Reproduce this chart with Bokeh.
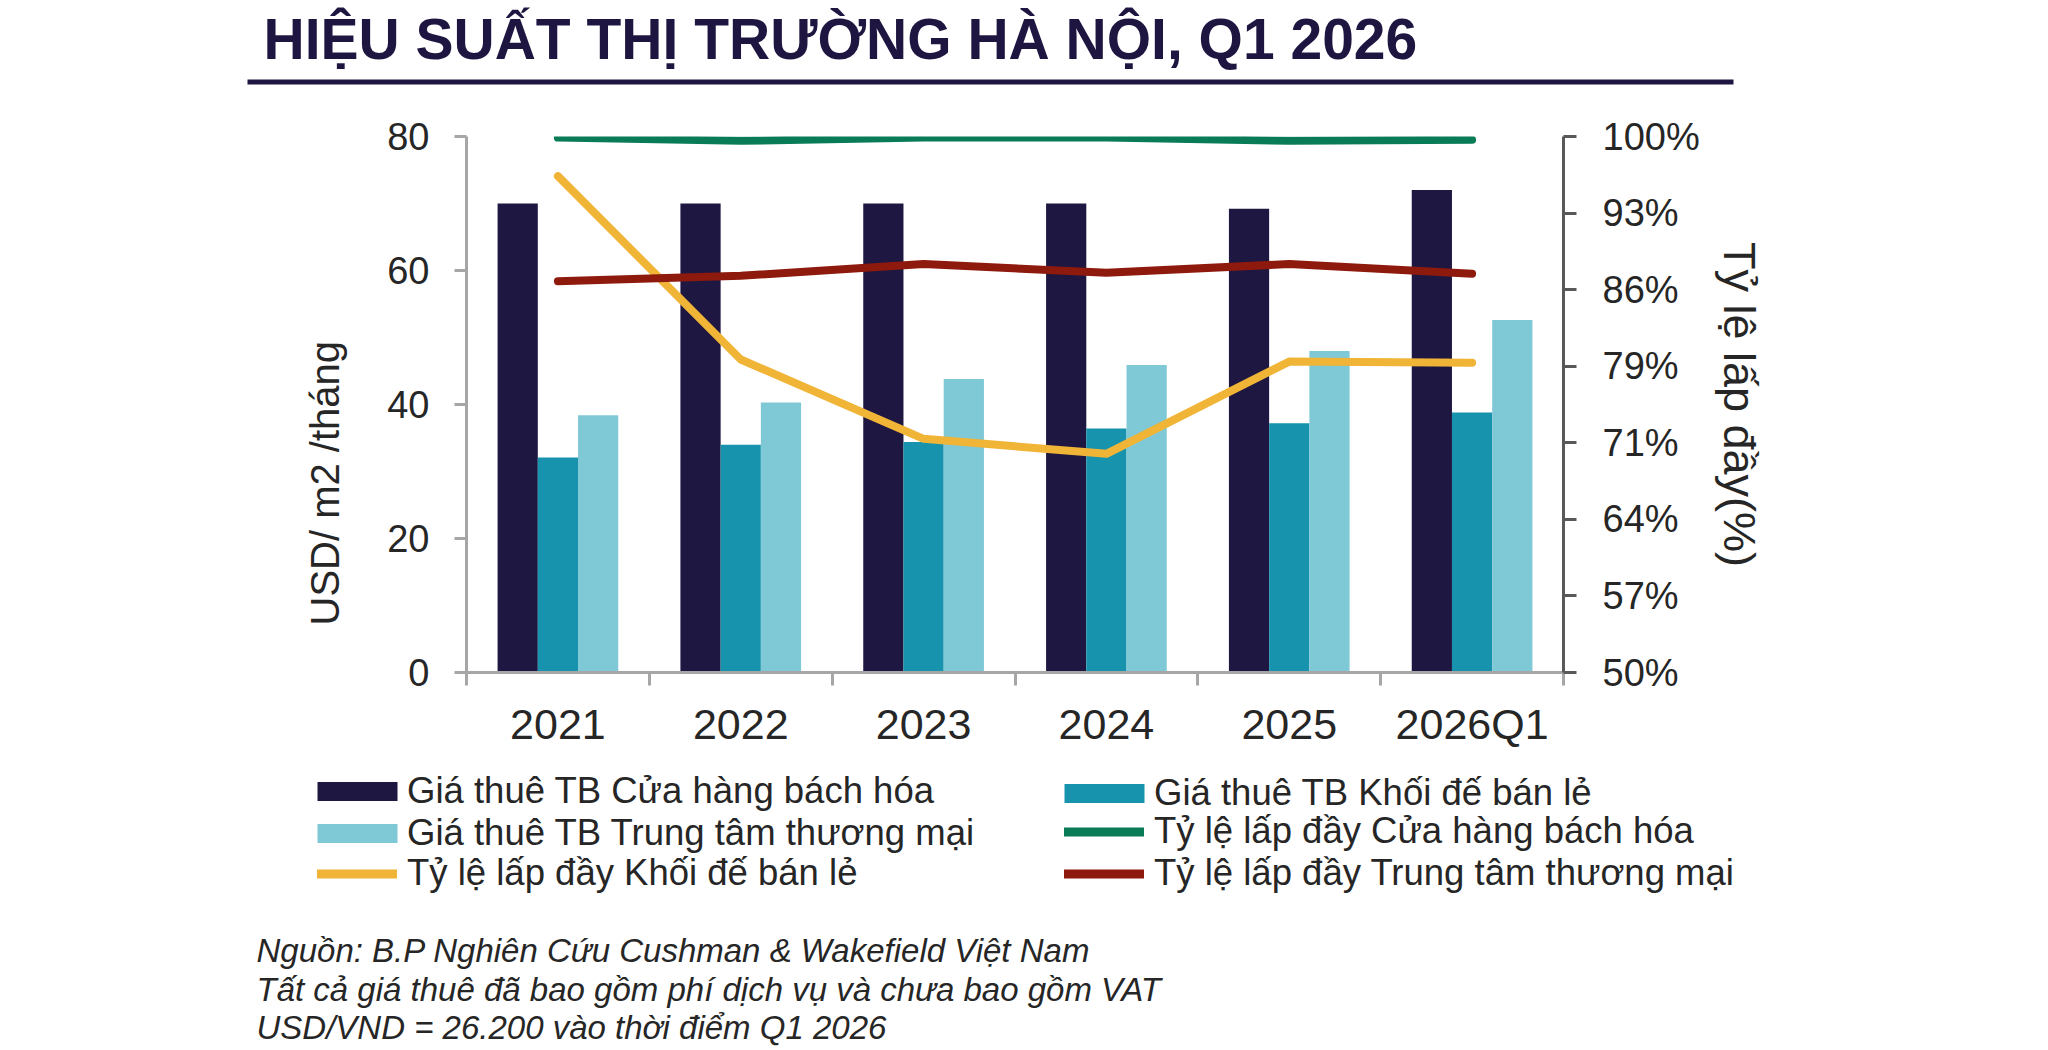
import numpy as np
from bokeh.plotting import figure
from bokeh.layouts import column
from bokeh.models import (Range1d, LinearAxis, FixedTicker, Legend, LegendItem,
                          Label, BoxAnnotation, Title)
from bokeh.embed import file_html
from bokeh.resources import INLINE

# ---------------- data ----------------
years = ["2021", "2022", "2023", "2024", "2025", "2026Q1"]
rent_dept = [70.0, 70.0, 70.0, 70.0, 69.2, 72.0]      # Giá thuê TB Cửa hàng bách hóa
rent_podium = [32.1, 34.0, 34.4, 36.4, 37.2, 38.8]    # Giá thuê TB Khối đế bán lẻ
rent_mall = [38.4, 40.3, 43.8, 45.9, 48.0, 52.6]      # Giá thuê TB Trung tâm thương mại
occ_dept = [99.9, 99.6, 99.9, 99.9, 99.6, 99.7]       # Tỷ lệ lấp đầy Cửa hàng bách hóa
occ_podium = [96.3, 79.2, 71.8, 70.4, 79.0, 78.9]     # Tỷ lệ lấp đầy Khối đế bán lẻ
occ_mall = [86.5, 87.0, 88.1, 87.3, 88.1, 87.2]       # Tỷ lệ lấp đầy Trung tâm thương mại

rent_ticks = [0, 20, 40, 60, 80]
occ_tick_labels = ["50%", "57%", "64%", "71%", "79%", "86%", "93%", "100%"]

names = ["Giá thuê TB Cửa hàng bách hóa", "Giá thuê TB Khối đế bán lẻ",
         "Giá thuê TB Trung tâm thương mại", "Tỷ lệ lấp đầy Cửa hàng bách hóa",
         "Tỷ lệ lấp đầy Khối đế bán lẻ", "Tỷ lệ lấp đầy Trung tâm thương mại"]

title_text = "HIỆU SUẤT THỊ TRƯỜNG HÀ NỘI, Q1 2026"
y_title = "USD/ m2 /tháng"
y2_title = "Tỷ lệ lấp đầy(%)"
notes = ["Nguồn: B.P Nghiên Cứu Cushman & Wakefield Việt Nam",
         "Tất cả giá thuê đã bao gồm phí dịch vụ và chưa bao gồm VAT",
         "USD/VND = 26.200 vào thời điểm Q1 2026"]

# ---------------- styles ----------------
C_DARK, C_TEAL, C_LIGHT = "#1E1741", "#1793AD", "#7FC8D6"
C_GREEN, C_YELLOW, C_RED = "#0A7B57", "#F0B437", "#8E190D"
NAVY = "#1E1641"
TXT = "#262626"
FONT = "Liberation Sans"

W = 2032
HT = 100            # title strip: canvas y 0..100
M_TOP, M_BOT = 100, 762
H_ALL = 1046
FL, FR, FT, FB = 466, 1563, 136, 672   # chart frame edges (canvas px)


def blank(height, y0):
    f = figure(width=W, height=height, output_backend="svg", toolbar_location=None,
               x_range=Range1d(0, W), y_range=Range1d(y0 + height, y0),
               x_axis_type=None, y_axis_type=None, frame_align=False,
               min_border=0, min_border_left=0, min_border_right=0,
               min_border_top=0, min_border_bottom=0)
    f.outline_line_color = None
    f.xgrid.visible = False
    f.ygrid.visible = False
    f.background_fill_color = "white"
    f.border_fill_color = "white"
    return f


# ---------------- title strip ----------------
pt = blank(HT, 0)
pt.add_layout(Label(x=263, y=38, text=title_text, text_font=FONT, text_font_style="bold",
                    text_font_size="57px", text_color=NAVY, text_baseline="alphabetic"))
pt.add_layout(BoxAnnotation(left=247, right=1733, top=79, bottom=84,
                            fill_color=NAVY, fill_alpha=1, line_color=None))

# ---------------- main chart ----------------
n = len(years)
xc = np.arange(n) + 0.5
bw = 0.22

p = figure(width=W, height=M_BOT - M_TOP, output_backend="svg", toolbar_location=None,
           x_range=Range1d(0, n), y_range=Range1d(0, 80),
           x_axis_type=None, y_axis_type=None, frame_align=False,
           min_border_left=FL, min_border_right=W - FR,
           min_border_top=FT - M_TOP, min_border_bottom=M_BOT - FB)
p.outline_line_color = None
p.xgrid.visible = False
p.ygrid.visible = False
p.background_fill_color = "white"
p.border_fill_color = "white"
p.extra_y_ranges = {"occ": Range1d(50, 100)}

r1 = p.vbar(x=xc - bw, top=rent_dept, width=bw, fill_color=C_DARK, line_color=None)
r2 = p.vbar(x=xc, top=rent_podium, width=bw, fill_color=C_TEAL, line_color=None)
r3 = p.vbar(x=xc + bw, top=rent_mall, width=bw, fill_color=C_LIGHT, line_color=None)

lkw = dict(line_width=8, line_cap="round", line_join="round", y_range_name="occ")
r4 = p.line(xc, occ_dept, line_color=C_GREEN, **lkw)
r5 = p.line(xc, occ_podium, line_color=C_YELLOW, **lkw)
r6 = p.line(xc, occ_mall, line_color=C_RED, **lkw)


def style_axis(ax, color, size):
    ax.axis_line_color = color
    ax.axis_line_width = 3
    ax.major_tick_line_color = color
    ax.major_tick_line_width = 3
    ax.minor_tick_line_color = color
    ax.minor_tick_line_width = 3
    ax.major_tick_in = 0
    ax.minor_tick_in = 0
    ax.minor_tick_out = 0
    ax.major_label_text_font = FONT
    ax.major_label_text_font_size = size
    ax.major_label_text_color = TXT
    ax.axis_label_text_font = FONT
    ax.axis_label_text_font_style = "normal"
    ax.axis_label_text_color = TXT


xax = LinearAxis(ticker=FixedTicker(ticks=list(xc), minor_ticks=list(np.arange(n + 1))))
style_axis(xax, "#A6A6A6", "43px")
xax.major_tick_out = 0
xax.major_tick_line_color = None
xax.minor_tick_out = 13
xax.major_label_standoff = 14
xax.major_label_overrides = {float(v): lab for v, lab in zip(xc, years)}
p.add_layout(xax, "below")

yax = LinearAxis(ticker=FixedTicker(ticks=rent_ticks))
style_axis(yax, "#A6A6A6", "38px")
yax.major_tick_out = 12
yax.major_label_standoff = 25
p.add_layout(yax, "left")

p.add_layout(Title(text=y_title, align="left", offset=47, standoff=75,
                   text_font=FONT, text_font_style="normal", text_font_size="40px",
                   text_color=TXT), "left")

occ_ticks = list(np.linspace(50, 100, len(occ_tick_labels)))
rax = LinearAxis(y_range_name="occ", ticker=FixedTicker(ticks=occ_ticks), axis_label=y2_title)
style_axis(rax, "#595959", "38px")
rax.major_tick_out = 13
rax.major_label_standoff = 26
rax.major_label_overrides = {float(v): lab for v, lab in zip(occ_ticks, occ_tick_labels)}
rax.axis_label_text_font_size = "45px"
rax.axis_label_standoff = 11
p.add_layout(rax, "right")

# ---------------- legend + notes strip ----------------
pb = blank(H_ALL - M_BOT, M_BOT)
# legend keys styled like the chart's series (zero-size proxies)
k1 = pb.vbar(x=[0], top=[M_BOT], bottom=[M_BOT], width=0, fill_color=C_DARK, line_color=None)
k2 = pb.vbar(x=[0], top=[M_BOT], bottom=[M_BOT], width=0, fill_color=C_TEAL, line_color=None)
k3 = pb.vbar(x=[0], top=[M_BOT], bottom=[M_BOT], width=0, fill_color=C_LIGHT, line_color=None)
k4 = pb.line(x=[0], y=[M_BOT], line_color=C_GREEN, line_width=9, line_cap="round")
k5 = pb.line(x=[0], y=[M_BOT], line_color=C_YELLOW, line_width=9, line_cap="round")
k6 = pb.line(x=[0], y=[M_BOT], line_color=C_RED, line_width=9, line_cap="round")

ROW_H = 40
ROW0_TOP = 794 - ROW_H / 2
TEXT_X = [407, 1154]          # where legend texts start, per column


def make_legend(items, col, row0, is_bar):
    gw, gh, so = (100, 24, 0) if is_bar else (80, 19, 10)
    top = ROW0_TOP + row0 * ROW_H
    bottom = top + len(items) * ROW_H
    lg = Legend(items=items, orientation="vertical",
                location=(TEXT_X[col] - gw - so, H_ALL - bottom),
                glyph_width=gw, glyph_height=gh, label_standoff=so,
                label_text_font=FONT, label_text_font_size="36.5px",
                label_text_color=TXT, label_height=ROW_H, spacing=0,
                padding=0, margin=0, border_line_color=None,
                background_fill_alpha=0)
    pb.add_layout(lg, "center")


make_legend([LegendItem(label=names[0], renderers=[k1]),
             LegendItem(label=names[2], renderers=[k3])], 0, 0, True)
make_legend([LegendItem(label=names[4], renderers=[k5])], 0, 2, False)
make_legend([LegendItem(label=names[1], renderers=[k2])], 1, 0, True)
make_legend([LegendItem(label=names[3], renderers=[k4]),
             LegendItem(label=names[5], renderers=[k6])], 1, 1, False)

for i, t in enumerate(notes):
    pb.add_layout(Label(x=256, y=950 + 38.5 * i, text=t, text_font=FONT,
                        text_font_style="italic", text_font_size="33px",
                        text_color=TXT, text_baseline="middle"))

page = column(pt, p, pb, spacing=0)
open("out.html", "w").write(file_html(page, INLINE))
